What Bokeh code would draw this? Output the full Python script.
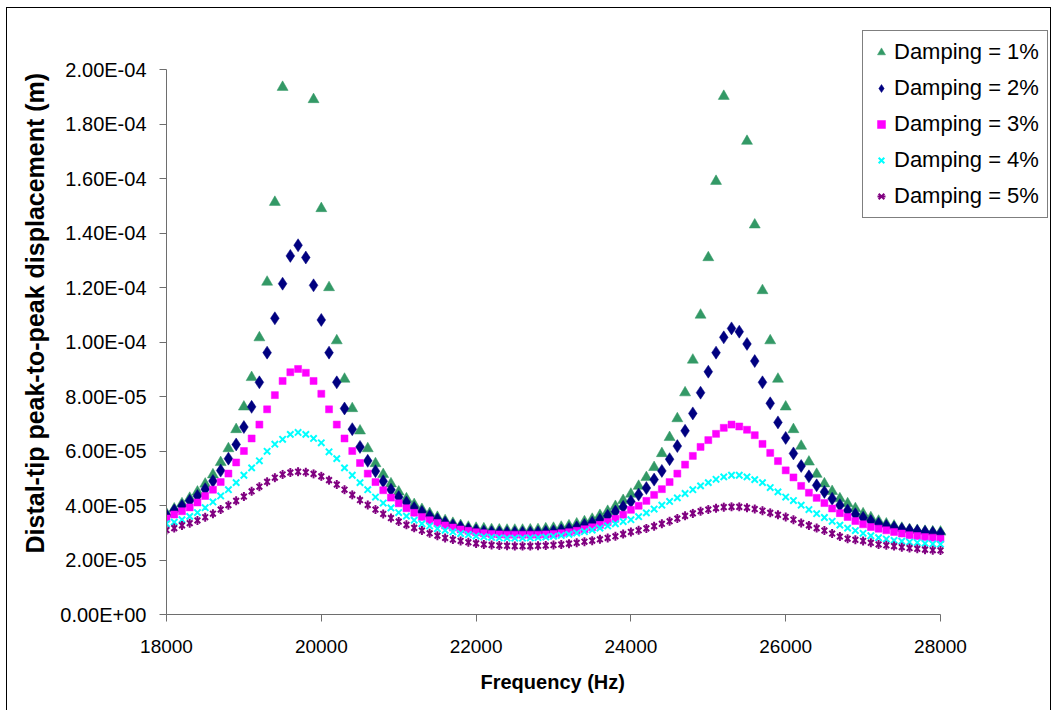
import numpy as np
from bokeh.plotting import figure
from bokeh.models import Range1d, FixedTicker, Legend, LegendItem, Title
from bokeh.embed import file_html
from bokeh.resources import INLINE

NaN = float("nan")  # points that lie above the 2.00E-04 axis limit in the source chart

# Frequency (Hz), 100 Hz steps
freq = list(range(18000, 28001, 100))

# Distal-tip peak-to-peak displacement, in units of 1e-5 m
damp_1 = [3.70, 3.88, 4.07, 4.27, 4.50, 4.79, 5.13, 5.58, 6.09, 6.79,
          7.62, 8.70, 10.16, 12.20, 15.13, 19.35, NaN, NaN, NaN, 18.90,
          14.90, 12.00, 10.05, 8.64, 7.56, 6.74, 6.09, 5.54, 5.14, 4.80,
          4.50, 4.25, 4.04, 3.86, 3.71, 3.57, 3.45, 3.35, 3.27, 3.21,
          3.17, 3.15, 3.12, 3.11, 3.10, 3.10, 3.10, 3.11, 3.12, 3.15,
          3.17, 3.21, 3.26, 3.33, 3.41, 3.50, 3.64, 3.79, 3.97, 4.19,
          4.42, 4.71, 5.03, 5.40, 5.91, 6.50, 7.19, 8.14, 9.34, 10.99,
          13.10, 15.90, 19.02, NaN, NaN, 17.37, 14.30, 11.89, 10.05, 8.64,
          7.62, 6.79, 6.18, 5.60, 5.15, 4.80, 4.52, 4.25, 4.07, 3.89,
          3.70, 3.56, 3.43, 3.33, 3.25, 3.17, 3.12, 3.09, 3.06, 3.04,
          3.03]
damp_2 = [3.64, 3.82, 3.98, 4.17, 4.35, 4.60, 4.90, 5.28, 5.72, 6.24,
          6.88, 7.62, 8.52, 9.61, 10.87, 12.14, 13.16, 13.55, 13.10, 12.08,
          10.81, 9.61, 8.52, 7.56, 6.80, 6.15, 5.64, 5.26, 4.89, 4.58,
          4.31, 4.11, 3.91, 3.76, 3.61, 3.49, 3.37, 3.27, 3.20, 3.13,
          3.08, 3.04, 3.02, 3.01, 3.00, 3.00, 3.00, 3.00, 3.01, 3.03,
          3.05, 3.09, 3.14, 3.20, 3.28, 3.37, 3.48, 3.62, 3.78, 3.95,
          4.15, 4.40, 4.64, 4.95, 5.27, 5.70, 6.18, 6.74, 7.38, 8.14,
          8.91, 9.61, 10.17, 10.50, 10.38, 9.93, 9.30, 8.52, 7.75, 7.05,
          6.48, 5.91, 5.45, 5.07, 4.74, 4.50, 4.25, 4.01, 3.82, 3.68,
          3.55, 3.43, 3.33, 3.25, 3.19, 3.13, 3.09, 3.06, 3.03, 3.00,
          2.97]
damp_3 = [3.52, 3.67, 3.79, 3.93, 4.11, 4.35, 4.58, 4.86, 5.17, 5.58,
          6.00, 6.46, 6.97, 7.53, 8.05, 8.57, 8.89, 9.01, 8.87, 8.57,
          8.10, 7.53, 6.97, 6.46, 6.00, 5.56, 5.17, 4.86, 4.56, 4.29,
          4.08, 3.90, 3.73, 3.58, 3.46, 3.36, 3.27, 3.19, 3.12, 3.07,
          3.02, 2.98, 2.95, 2.94, 2.93, 2.93, 2.93, 2.93, 2.93, 2.94,
          2.95, 2.98, 3.02, 3.07, 3.13, 3.20, 3.29, 3.39, 3.51, 3.66,
          3.84, 3.99, 4.17, 4.39, 4.60, 4.86, 5.17, 5.50, 5.82, 6.15,
          6.40, 6.63, 6.85, 6.97, 6.90, 6.78, 6.58, 6.26, 5.93, 5.63,
          5.29, 5.03, 4.72, 4.47, 4.28, 4.09, 3.89, 3.72, 3.58, 3.43,
          3.31, 3.21, 3.15, 3.09, 3.03, 2.97, 2.91, 2.88, 2.84, 2.82,
          2.78]
damp_4 = [3.33, 3.39, 3.48, 3.60, 3.74, 3.92, 4.13, 4.35, 4.58, 4.84,
          5.11, 5.38, 5.64, 5.99, 6.25, 6.43, 6.61, 6.68, 6.61, 6.46,
          6.30, 5.97, 5.72, 5.38, 5.11, 4.84, 4.58, 4.31, 4.09, 3.91,
          3.74, 3.61, 3.46, 3.33, 3.25, 3.15, 3.09, 3.03, 2.97, 2.93,
          2.88, 2.85, 2.83, 2.81, 2.80, 2.80, 2.80, 2.81, 2.82, 2.84,
          2.87, 2.90, 2.94, 2.99, 3.04, 3.10, 3.17, 3.25, 3.33, 3.41,
          3.48, 3.59, 3.73, 3.87, 4.01, 4.15, 4.28, 4.44, 4.58, 4.72,
          4.84, 4.96, 5.05, 5.11, 5.11, 5.05, 4.95, 4.84, 4.66, 4.50,
          4.31, 4.18, 4.01, 3.85, 3.70, 3.56, 3.42, 3.28, 3.17, 3.08,
          2.98, 2.89, 2.82, 2.77, 2.72, 2.69, 2.66, 2.64, 2.61, 2.59,
          2.58]
damp_5 = [3.10, 3.17, 3.27, 3.35, 3.45, 3.57, 3.70, 3.85, 4.01, 4.17,
          4.33, 4.52, 4.69, 4.87, 5.02, 5.14, 5.21, 5.24, 5.22, 5.16,
          5.07, 4.93, 4.77, 4.58, 4.39, 4.20, 4.02, 3.85, 3.69, 3.54,
          3.41, 3.29, 3.18, 3.08, 2.98, 2.89, 2.81, 2.75, 2.70, 2.65,
          2.61, 2.57, 2.55, 2.53, 2.52, 2.51, 2.51, 2.51, 2.52, 2.53,
          2.55, 2.57, 2.60, 2.63, 2.67, 2.71, 2.76, 2.81, 2.87, 2.95,
          3.03, 3.09, 3.16, 3.24, 3.33, 3.42, 3.52, 3.62, 3.71, 3.79,
          3.85, 3.90, 3.94, 3.95, 3.95, 3.92, 3.87, 3.81, 3.73, 3.66,
          3.58, 3.48, 3.36, 3.27, 3.17, 3.08, 2.97, 2.86, 2.78, 2.74,
          2.70, 2.63, 2.57, 2.54, 2.51, 2.47, 2.44, 2.41, 2.38, 2.36,
          2.35]
unit = 1e-5

series_labels = ["Damping = 1%", "Damping = 2%", "Damping = 3%",
                 "Damping = 4%", "Damping = 5%"]

x_ticks = [18000, 20000, 22000, 24000, 26000, 28000]
y_ticks = [0.0, 2e-05, 4e-05, 6e-05, 8e-05, 1e-04, 1.2e-04, 1.4e-04,
           1.6e-04, 1.8e-04, 2e-04]
y_tick_labels = ["0.00E+00", "2.00E-05", "4.00E-05", "6.00E-05", "8.00E-05",
                 "1.00E-04", "1.20E-04", "1.40E-04", "1.60E-04", "1.80E-04",
                 "2.00E-04"]
x_min, x_max = 18000, 28000
y_min, y_max = 0.0, 2e-4

FONT = "Liberation Sans"

# ---- layout geometry (canvas pixels) ----
W, H = 1045, 703
FL, FB = 159, 606          # frame left / bottom
AX_R, AX_T = 933, 61       # where x_max / y_max fall
FR, FT = 1043, 22          # frame right / top (room for the legend)
x_end = x_max + (FR - AX_R) * (x_max - x_min) / (AX_R - FL)
y_end = y_max + (AX_T - FT) * (y_max - y_min) / (FB - AX_T)

p = figure(width=W, height=H, output_backend="svg", toolbar_location=None,
           x_range=Range1d(x_min, x_end), y_range=Range1d(y_min, y_end),
           min_border_left=FL, min_border_right=W - FR,
           min_border_top=FT, min_border_bottom=H - FB)
p.styles = {"border": "1px solid #000000", "border-bottom": "none",
            "margin": "7px 0px 0px 6px"}
p.xgrid.visible = False
p.ygrid.visible = False
p.outline_line_color = None
p.background_fill_color = "white"
p.border_fill_color = "white"

f = np.array(freq)
y1 = np.array(damp_1) * unit
y2 = np.array(damp_2) * unit
y3 = np.array(damp_3) * unit
y4 = np.array(damp_4) * unit
y5 = np.array(damp_5) * unit

r1 = p.scatter(f, y1, marker="triangle", size=11, fill_color="#339966",
               line_color="#339966", line_width=0.5)
r2 = p.scatter(f, y2, marker="diamond", size=13, fill_color="#000080",
               line_color="#000080", line_width=0.5)
r3 = p.scatter(f, y3, marker="square", size=7, fill_color="#FF00FF",
               line_color="#FF00FF", line_width=0.5)
r4 = p.scatter(f, y4, marker="x", size=9, line_color="#00FFFF", line_width=2)
r5a = p.scatter(f, y5, marker="x", size=8, line_color="#800080", line_width=2)
r5b = p.scatter(f, y5, marker="dash", size=9, angle=np.pi / 2,
                line_color="#800080", line_width=2)

# axes
for ax in (p.xaxis[0], p.yaxis[0]):
    ax.axis_line_color = "#6e6e6e"
    ax.major_tick_line_color = "#6e6e6e"
    ax.major_tick_out = 7
    ax.major_tick_in = 0
    ax.minor_tick_line_color = None
    ax.major_label_text_font = FONT
    ax.major_label_text_color = "black"

p.xaxis.major_label_standoff = 18
p.yaxis.major_label_standoff = 13
p.xaxis.bounds = (x_min, x_max)
p.yaxis.bounds = (y_min, y_max)
p.xaxis.ticker = FixedTicker(ticks=x_ticks)
p.yaxis.ticker = FixedTicker(ticks=y_ticks)
p.yaxis.major_label_overrides = dict(zip(y_ticks, y_tick_labels))
p.xaxis.major_label_text_font_size = "19px"
p.yaxis.major_label_text_font_size = "20px"

# axis titles (placed as side titles so they can be positioned on the axis span)
xt = Title(text="Frequency (Hz)", align="left", offset=314,
           text_font=FONT, text_font_size="20px", text_font_style="bold",
           text_color="black", standoff=26)
p.add_layout(xt, "below")
yt = Title(text="Distal-tip peak-to-peak displacement (m)", align="left",
           offset=61, text_font=FONT, text_font_size="25px",
           text_font_style="bold", text_color="black", standoff=18)
p.add_layout(yt, "left")

legend = Legend(items=[
    LegendItem(label=series_labels[0], renderers=[r1]),
    LegendItem(label=series_labels[1], renderers=[r2]),
    LegendItem(label=series_labels[2], renderers=[r3]),
    LegendItem(label=series_labels[3], renderers=[r4]),
    LegendItem(label=series_labels[4], renderers=[r5a, r5b]),
], location=(696, 396))
legend.border_line_color = "black"
legend.border_line_width = 1
legend.background_fill_color = "white"
legend.background_fill_alpha = 1.0
legend.padding = 8
legend.spacing = 10
legend.margin = 0
legend.glyph_width = 20
legend.glyph_height = 20
legend.label_height = 20
legend.label_standoff = 3
legend.label_text_font = FONT
legend.label_text_font_size = "22px"
legend.label_text_color = "black"
p.add_layout(legend, "center")

open("out.html", "w").write(file_html(p, INLINE))
